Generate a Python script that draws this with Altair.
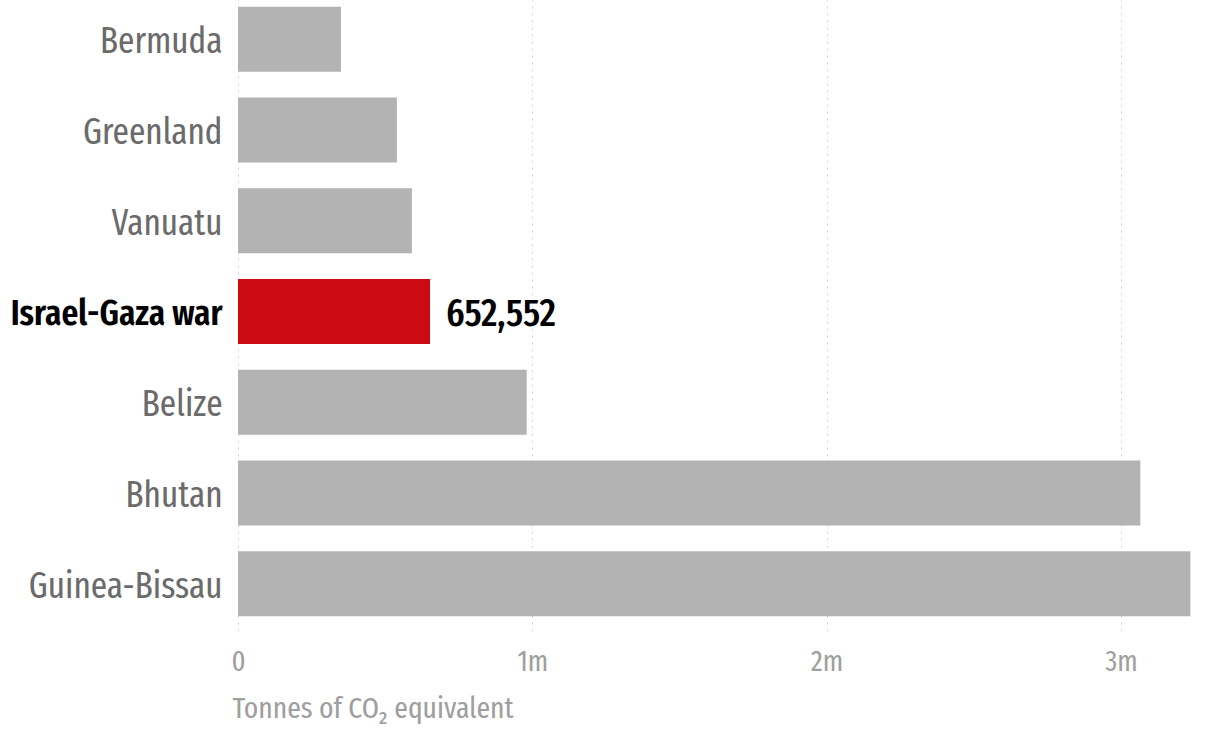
import altair as alt
import pandas as pd

categories = ["Bermuda", "Greenland", "Vanuatu", "Israel-Gaza war", "Belize", "Bhutan", "Guinea-Bissau"]
values = [350000, 540000, 591000, 652552, 981000, 3066000, 3236000]
highlight = "Israel-Gaza war"
tick_values = [0, 1000000, 2000000, 3000000]

df = pd.DataFrame({"name": categories, "value": values})
df["hl"] = df["name"] == highlight
df["label"] = df["value"].map(lambda v: f"{v:,}")

FONT = "Fira Sans Extra Condensed, Fira Sans Condensed, sans-serif"

y_enc = alt.Y(
    "name:N",
    sort=None,
    scale=alt.Scale(paddingInner=0.284, paddingOuter=0.118, align=0.313),
    axis=alt.Axis(
        title=None, ticks=False, domain=False, grid=False,
        labelFont=FONT, labelFontSize=36, labelPadding=16, labelLimit=400, labelOffset=3,
        labelColor=alt.condition(f"datum.value == '{highlight}'", alt.value("#000000"), alt.value("#6b6b6b")),
        labelFontWeight=alt.condition(f"datum.value == '{highlight}'", alt.value(600), alt.value(400)),
    ),
)

x_enc = alt.X(
    "value:Q",
    scale=alt.Scale(domain=[0, 3245000], nice=False),
    axis=alt.Axis(
        values=tick_values,
        labelExpr="datum.value == 0 ? '0' : (datum.value / 1000000) + 'm'",
        title="Tonnes of CO₂ equivalent",
        titleFont=FONT, titleFontSize=30, titleFontWeight="normal", titleColor="#9f9f9f",
        titleAnchor="start", titleAlign="left", titleBaseline="alphabetic",
        titleX=-6, titleY=86,
        labelFont=FONT, labelFontSize=29, labelColor="#9f9f9f", labelPadding=16,
        labelFlush=False,
        ticks=False, domain=False,
        grid=True, gridColor="#cfcfcf", gridDash=[2, 5], gridWidth=1,
    ),
)

bars = alt.Chart(df).mark_bar(cornerRadius=0).encode(
    y=y_enc,
    x=x_enc,
    color=alt.Color("hl:N", scale=alt.Scale(domain=[False, True], range=["#b3b3b3", "#cc0a14"]), legend=None),
)

text = alt.Chart(df).transform_filter(alt.datum.hl).mark_text(
    align="left", baseline="middle", dx=16, dy=3, font=FONT, fontSize=39, fontWeight=500, color="#000000"
).encode(
    y=alt.Y("name:N", sort=None),
    x="value:Q",
    text="label:N",
)

chart = alt.layer(bars, text).properties(
    width=955, height=631,
    autosize=alt.AutoSizeParams(type="none"),
    padding={"left": 238, "top": 0, "right": 12, "bottom": 104},
).configure(background="white").configure_view(stroke=None)

chart.save("out.html", embed_options={"renderer": "svg", "actions": False})
